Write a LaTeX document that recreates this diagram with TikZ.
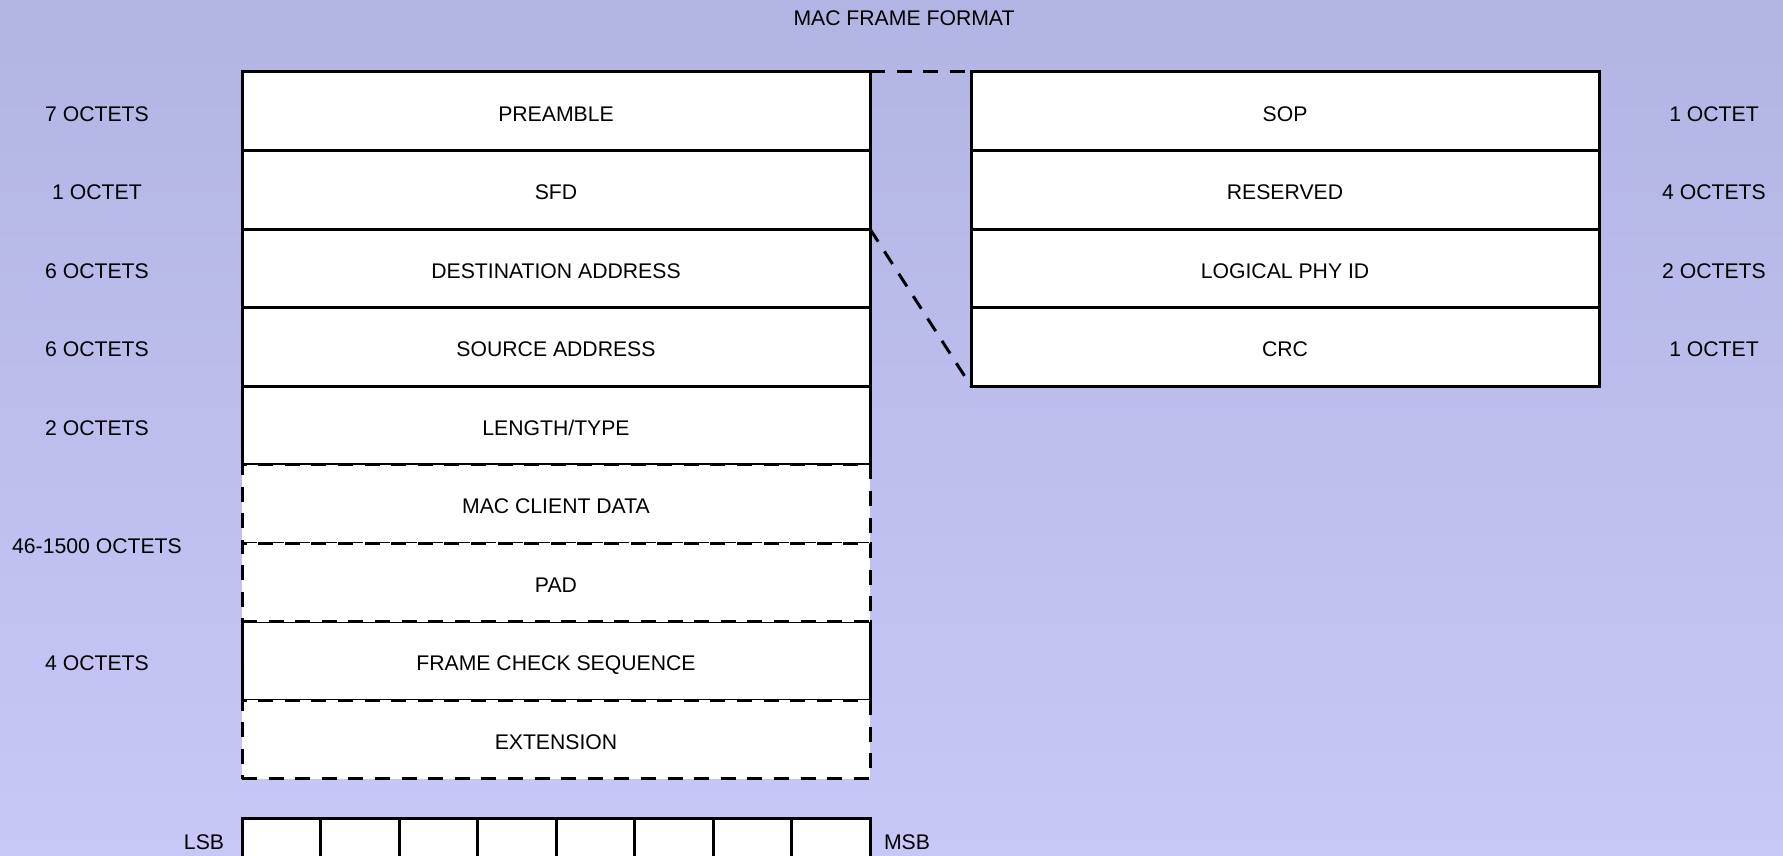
\documentclass[tikz,border=0pt]{standalone}
\usepackage{fontspec}
\setmainfont{Liberation Sans}
\usetikzlibrary{positioning}

\definecolor{bgtop}{RGB}{178,180,228}
\definecolor{bgbottom}{RGB}{200,200,248}

\tikzset{
  field/.style={draw, fill=white, line width=1.5pt, minimum width=314pt, minimum height=39.25pt,
    outer sep=0pt, inner sep=0pt, text height=10pt, text depth=0pt, font=\fontsize{10.6}{12}\selectfont},
  optfield/.style={field, dash pattern=on 7.5pt off 5.8pt},
  lbl/.style={inner sep=0pt, text height=10pt, text depth=0pt, font=\fontsize{10.6}{12}\selectfont},
  bitcell/.style={draw, fill=white, line width=1.5pt, minimum width=39.25pt, minimum height=39.25pt, outer sep=0pt},
  zoomline/.style={line width=1.5pt, dash pattern=on 7.5pt off 5.8pt},
}

\begin{document}
\begin{tikzpicture}[x=0.5pt, y=-0.5pt]
  % page and background
  \useasboundingbox (0,0) rectangle (1783,856);
  \clip (0,0) rectangle (1783,856);
  \shade[top color=bgtop, bottom color=bgbottom] (0,0) rectangle (1783,856);

  \node[lbl] (title) at (904,16) {MAC FRAME FORMAT};

  % frame fields, solid ones first
  \node[field, anchor=north west] (preamble) at (242,72) {PREAMBLE};
  \node[field, below=0pt of preamble] (sfd) {SFD};
  \node[field, below=0pt of sfd] (dst) {DESTINATION ADDRESS};
  \node[field, below=0pt of dst] (src) {SOURCE ADDRESS};
  \node[field, below=0pt of src] (lentype) {LENGTH/TYPE};
  \node[field, below=78.5pt of lentype] (fcs) {FRAME CHECK SEQUENCE};
  % optional fields go on top
  \node[optfield, below=0pt of lentype] (data) {MAC CLIENT DATA};
  \node[optfield, below=0pt of data] (pad) {PAD};
  \node[optfield, below=0pt of fcs] (ext) {EXTENSION};

  % preamble detail
  \node[field, anchor=north west] (sop) at (971,72) {SOP};
  \node[field, below=0pt of sop] (rsvd) {RESERVED};
  \node[field, below=0pt of rsvd] (phyid) {LOGICAL PHY ID};
  \node[field, below=0pt of phyid] (crc) {CRC};

  \draw[zoomline] (preamble.north east) -- (sop.north west);
  \draw[zoomline] (sfd.south east) -- (crc.south west);

  % sizes
  \foreach \f/\t in {preamble/7 OCTETS, sfd/1 OCTET, dst/6 OCTETS, src/6 OCTETS, lentype/2 OCTETS, fcs/4 OCTETS}
    \node[lbl] (\f-size) at (97,0 |- \f) {\t};
  \node[lbl] (data-size) at (97,0 |- data.south) {46-1500 OCTETS};
  \foreach \f/\t in {sop/1 OCTET, rsvd/4 OCTETS, phyid/2 OCTETS, crc/1 OCTET}
    \node[lbl] (\f-size) at (1714,0 |- \f) {\t};

  % bit order
  \foreach \i in {1,...,8}
    \node[bitcell, anchor=north west] (bit\i) at ({242+78.5*(\i-1)},818) {};
  \node[lbl] (lsb) at (204,839) {LSB};
  \node[lbl] (msb) at (907,839) {MSB};
\end{tikzpicture}
\end{document}
